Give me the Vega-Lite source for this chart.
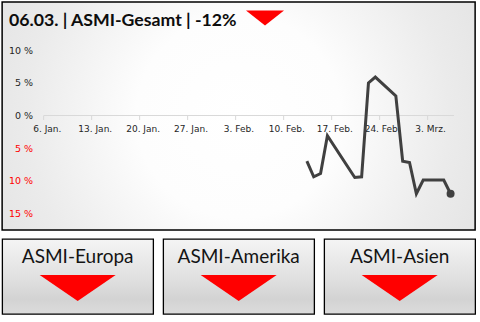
{
  "$schema": "https://vega.github.io/schema/vega-lite/v6.json",
  "background": "#ffffff",
  "padding": {"left": 1, "top": 1, "right": 0, "bottom": 0},
  "spacing": 7,
  "center": true,
  "config": {"view": {"stroke": null}, "font": "DejaVu Sans"},
  "vconcat": [
    {
      "width": 473,
      "height": 228,
      "view": {
        "fill": {
          "gradient": "radial",
          "x1": 0.5, "y1": 0.5, "r1": 0,
          "x2": 0.5, "y2": 0.5, "r2": 0.72,
          "stops": [
            {"offset": 0, "color": "#ffffff"},
            {"offset": 0.3, "color": "#fdfdfd"},
            {"offset": 0.62, "color": "#ebebeb"},
            {"offset": 1, "color": "#dcdcdc"}
          ]
        },
        "stroke": "#000000",
        "strokeWidth": 1.5
      },
      "data": {
        "values": [
          {"date": "2019-02-13", "pct": -7.0},
          {"date": "2019-02-14", "pct": -9.4},
          {"date": "2019-02-15", "pct": -8.9},
          {"date": "2019-02-16", "pct": -3.1},
          {"date": "2019-02-20", "pct": -9.5},
          {"date": "2019-02-21", "pct": -9.4},
          {"date": "2019-02-22", "pct": 5.0},
          {"date": "2019-02-23", "pct": 5.9},
          {"date": "2019-02-26", "pct": 3.0},
          {"date": "2019-02-27", "pct": -7.0},
          {"date": "2019-02-28", "pct": -7.2},
          {"date": "2019-03-01", "pct": -12.0},
          {"date": "2019-03-02", "pct": -9.9},
          {"date": "2019-03-05", "pct": -9.9},
          {"date": "2019-03-06", "pct": -12.0}
        ]
      },
      "layer": [
        {
          "data": {"values": [{}]},
          "mark": {"type": "rule", "color": "#d9d9d9", "strokeWidth": 1, "xOffset": -3.4, "x2Offset": 3.4},
          "encoding": {
            "x": {"datum": {"year": 2019, "month": 1, "date": 6, "utc": true}, "type": "temporal"},
            "x2": {"datum": {"year": 2019, "month": 3, "date": 6, "utc": true}},
            "y": {"datum": 0, "type": "quantitative"}
          }
        },
        {
          "mark": {"type": "line", "strokeWidth": 3},
          "encoding": {
            "x": {
              "field": "date",
              "type": "temporal",
              "scale": {
                "type": "utc",
                "nice": false,
                "domain": [
                  {"year": 2018, "month": 12, "date": 30, "hours": 11, "minutes": 10, "utc": true},
                  {"year": 2019, "month": 3, "date": 9, "hours": 14, "minutes": 4, "utc": true}
                ]
              },
              "axis": {
                "orient": "bottom",
                "offset": -114.5,
                "title": null,
                "domain": false,
                "grid": false,
                "values": [
                  {"year": 2019, "month": 1, "date": 6, "utc": true},
                  {"year": 2019, "month": 1, "date": 13, "utc": true},
                  {"year": 2019, "month": 1, "date": 20, "utc": true},
                  {"year": 2019, "month": 1, "date": 27, "utc": true},
                  {"year": 2019, "month": 2, "date": 3, "utc": true},
                  {"year": 2019, "month": 2, "date": 10, "utc": true},
                  {"year": 2019, "month": 2, "date": 17, "utc": true},
                  {"year": 2019, "month": 2, "date": 24, "utc": true},
                  {"year": 2019, "month": 3, "date": 3, "utc": true}
                ],
                "labelExpr": "utcdate(datum.value) + '. ' + ['Jan.', 'Feb.', 'Mrz.'][utcmonth(datum.value)]",
                "ticks": true,
                "tickColor": "#d9d9d9",
                "tickSize": 4,
                "tickOffset": -3.4,
                "labelOffset": 3.4,
                "labelPadding": 5,
                "labelFont": "DejaVu Sans",
                "labelFontSize": 9,
                "labelColor": "#262626",
                "labelOverlap": false,
                "labelFlush": false
              }
            },
            "y": {
              "field": "pct",
              "type": "quantitative",
              "scale": {"domain": [-17.56, 17.41], "nice": false, "zero": false},
              "axis": {
                "orient": "left",
                "offset": -30.5,
                "title": null,
                "domain": false,
                "grid": false,
                "ticks": false,
                "tickSize": 0,
                "labelPadding": 0,
                "values": [10, 5, 0, -5, -10, -15],
                "labelExpr": "abs(datum.value) + ' %'",
                "labelFont": "DejaVu Sans",
                "labelFontSize": 9.5,
                "labelColor": {"condition": {"test": "datum.value < 0", "value": "#ff0000"}, "value": "#262626"}
              }
            },
            "color": {
              "datum": "ASMI-Gesamt",
              "type": "nominal",
              "scale": {"range": ["#404040"]},
              "legend": {
                "title": "06.03. | ASMI-Gesamt | -12%",
                "orient": "top-left",
                "offset": 7,
                "padding": 0,
                "titleOrient": "left",
                "titleFont": "Lato",
                "titleFontSize": 17.7,
                "titleFontWeight": "bold",
                "titleColor": "#0d0d0d",
                "titleLimit": 400,
                "titlePadding": 8,
                "labelExpr": "''",
                "symbolType": "M-1,-0.92L1,-0.92L0,-0.13Z",
                "symbolSize": 1444,
                "symbolFillColor": "#ff0000",
                "symbolStrokeWidth": 0,
                "encode": {
                  "symbols": {
                    "update": {
                      "fill": {"value": "#ff0000"},
                      "stroke": {"value": "#ff0000"},
                      "strokeWidth": {"value": 0},
                      "opacity": {"value": 1}
                    }
                  }
                }
              }
            }
          }
        },
        {
          "transform": [{"filter": {"field": "date", "equal": {"year": 2019, "month": 3, "date": 6, "utc": true}}}],
          "mark": {"type": "circle", "size": 64, "color": "#404040", "opacity": 1},
          "encoding": {
            "x": {"field": "date", "type": "temporal"},
            "y": {"field": "pct", "type": "quantitative"}
          }
        }
      ]
    },
    {
      "data": {
        "values": [
          {"region": "ASMI-Europa", "trend": "down"},
          {"region": "ASMI-Amerika", "trend": "down"},
          {"region": "ASMI-Asien", "trend": "down"}
        ]
      },
      "facet": {
        "column": {
          "field": "region",
          "type": "nominal",
          "header": null,
          "sort": ["ASMI-Europa", "ASMI-Amerika", "ASMI-Asien"]
        }
      },
      "spacing": 8,
      "spec": {
        "width": 151,
        "height": 75,
        "view": {
          "fill": {
            "gradient": "linear",
            "x1": 0, "y1": 0, "x2": 0, "y2": 1,
            "stops": [
              {"offset": 0, "color": "#f4f4f4"},
              {"offset": 0.55, "color": "#dfdfdf"},
              {"offset": 0.8, "color": "#d3d3d3"},
              {"offset": 1, "color": "#dcdcdc"}
            ]
          },
          "stroke": "#000000",
          "strokeWidth": 1.3
        },
        "layer": [
          {
            "mark": {"type": "text", "font": "Lato", "fontSize": 19, "color": "#141414", "align": "center", "baseline": "middle", "dy": -20},
            "encoding": {"text": {"field": "region", "type": "nominal"}}
          },
          {
            "mark": {"type": "point", "shape": "M-1,-0.342L1,-0.342L0,0.342Z", "size": 5776, "filled": true, "color": "#ff0000", "opacity": 1, "strokeWidth": 0, "yOffset": 11.5},
            "encoding": {}
          }
        ]
      }
    }
  ]
}
